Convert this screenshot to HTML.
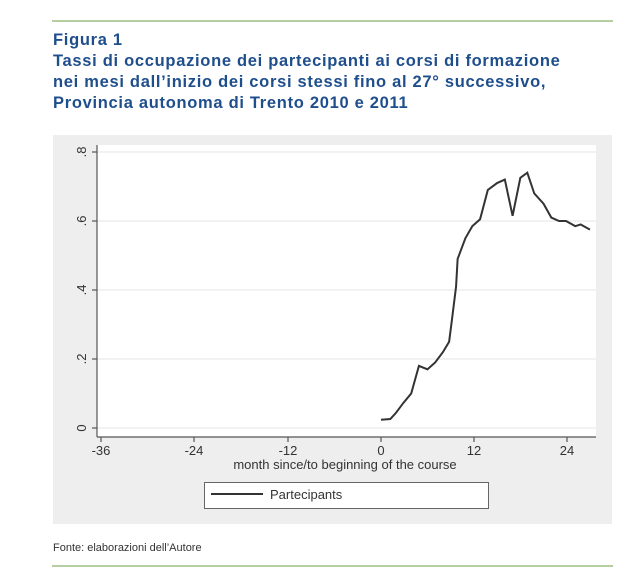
<!DOCTYPE html>
<html><head><meta charset="utf-8"><style>
body{margin:0;background:#fff;width:640px;height:577px;position:relative;font-family:"Liberation Sans",sans-serif;overflow:hidden}
.t{position:absolute;left:53px;color:#1f4e8c;font-weight:bold;font-size:16.5px;line-height:21px;top:30px;letter-spacing:0.7px}
</style></head><body>
<div style="position:absolute;left:52px;top:20px;width:561px;height:2px;background:#b5cfa3"></div>
<div class="t">Figura 1<br>Tassi di occupazione dei partecipanti ai corsi di formazione<br>nei mesi dall’inizio dei corsi stessi fino al 27° successivo,<br>Provincia autonoma di Trento 2010 e 2011</div>
<svg style="position:absolute;left:0;top:0" width="640" height="577">
<rect x="53" y="135" width="559" height="389" fill="#eeeeee"/>
<rect x="97" y="145" width="499" height="292" fill="#fff"/>
<g stroke="#e6e6e6" stroke-width="1">
<line x1="97" x2="596" y1="152" y2="152"/><line x1="97" x2="596" y1="221" y2="221"/>
<line x1="97" x2="596" y1="290" y2="290"/><line x1="97" x2="596" y1="359" y2="359"/>
<line x1="97" x2="596" y1="428" y2="428"/></g>
<g stroke="#555" stroke-width="1.2" fill="none">
<line x1="97" y1="145" x2="97" y2="437"/><line x1="97" y1="437" x2="596" y2="437"/>
<line x1="92" x2="97" y1="152" y2="152"/><line x1="92" x2="97" y1="221" y2="221"/><line x1="92" x2="97" y1="290" y2="290"/><line x1="92" x2="97" y1="359" y2="359"/><line x1="92" x2="97" y1="428" y2="428"/>
<line x1="101" x2="101" y1="437" y2="442"/><line x1="194" x2="194" y1="437" y2="442"/><line x1="288" x2="288" y1="437" y2="442"/><line x1="381" x2="381" y1="437" y2="442"/><line x1="474" x2="474" y1="437" y2="442"/><line x1="567" x2="567" y1="437" y2="442"/>
</g>
<g font-size="13" fill="#333" text-anchor="middle">
<text x="101" y="455">-36</text><text x="194" y="455">-24</text><text x="288" y="455">-12</text><text x="381" y="455">0</text><text x="474" y="455">12</text><text x="567" y="455">24</text>
<text x="345" y="469">month since/to beginning of the course</text>
<text transform="translate(86,428) rotate(-90)">0</text>
<text transform="translate(86,359) rotate(-90)">.2</text>
<text transform="translate(86,290) rotate(-90)">.4</text>
<text transform="translate(86,221) rotate(-90)">.6</text>
<text transform="translate(86,152) rotate(-90)">.8</text>
</g>
<g transform="translate(381,428) scale(7.74,-345)">
<polyline vector-effect="non-scaling-stroke" fill="none" stroke="#333" stroke-width="2" points="0,0.024 1.2,0.026 1.9,0.043 2.9,0.073 3.9,0.10 4.9,0.18 6,0.17 7,0.19 8,0.22 8.8,0.25 9.2,0.32 9.7,0.41 9.9,0.49 10.9,0.55 11.8,0.585 12.8,0.605 13.8,0.69 15,0.71 16,0.72 17,0.615 18,0.725 18.9,0.74 19.8,0.68 21,0.65 22,0.61 23,0.60 23.9,0.60 25.1,0.585 25.8,0.59 27,0.575"/>
</g>
<rect x="204.5" y="482.5" width="284" height="26" fill="#fff" stroke="#666"/>
<line x1="211" x2="263" y1="494" y2="494" stroke="#333" stroke-width="2"/>
<text x="270" y="499" font-size="13" fill="#333">Partecipants</text>
</svg>
<div style="position:absolute;left:53px;top:542px;font-size:11px;color:#333">Fonte: elaborazioni dell’Autore</div>
<div style="position:absolute;left:52px;top:565px;width:561px;height:2px;background:#b5cfa3"></div>
</body></html>
